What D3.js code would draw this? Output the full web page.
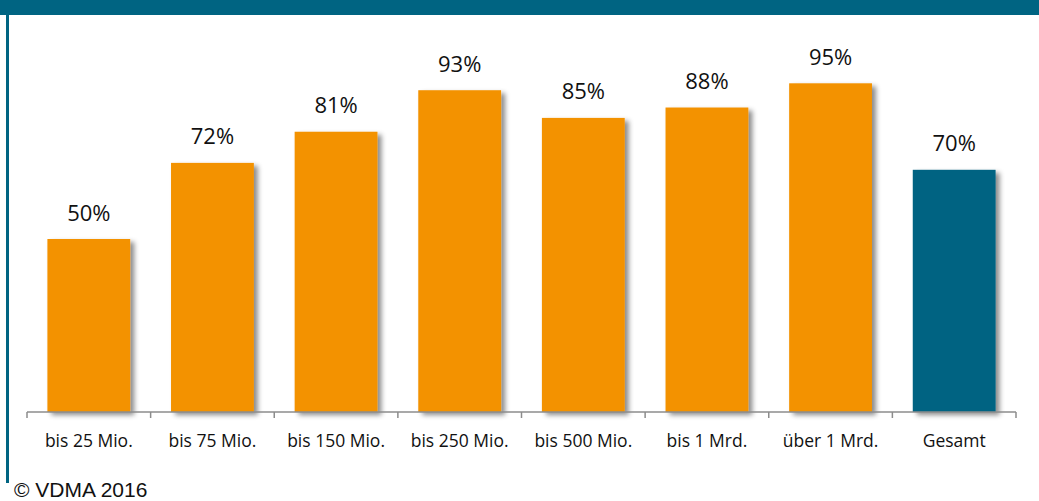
<!DOCTYPE html>
<html>
<head>
<meta charset="utf-8">
<script src="https://cdn.jsdelivr.net/npm/d3@7"></script>
<style>
  html, body { margin: 0; padding: 0; background: #fff; }
  svg { display: block; }
</style>
</head>
<body>
<svg id="chart" width="1039" height="501"></svg>
<script>
// Share of companies per revenue class, plus overall value
const categories = ["bis 25 Mio.", "bis 75 Mio.", "bis 150 Mio.", "bis 250 Mio.", "bis 500 Mio.", "bis 1 Mrd.", "über 1 Mrd.", "Gesamt"];
const values = [50, 72, 81, 93, 85, 88, 95, 70];
const totalCategory = "Gesamt";
const footnote = "© VDMA 2016";

const W = 1039, H = 501;
const teal = "#006482";
const orange = "#F39200";

const svg = d3.select("#chart");

// drop shadow for the bars
const defs = svg.append("defs");
const f = defs.append("filter").attr("id", "barShadow")
  .attr("x", "-20%").attr("y", "-20%").attr("width", "150%").attr("height", "140%");
f.append("feDropShadow")
  .attr("dx", 4).attr("dy", 3).attr("stdDeviation", 2.6)
  .attr("flood-color", "#000").attr("flood-opacity", 0.45);

// frame: top band and left rule
svg.append("rect").attr("x", 0).attr("y", 0).attr("width", W).attr("height", 15).attr("fill", teal);
svg.append("rect").attr("x", 6).attr("y", 0).attr("width", 3).attr("height", 483).attr("fill", teal);

const x = d3.scaleBand().domain(categories).range([27, 1016]).paddingInner(0.33).paddingOuter(0.165);
const xOuter = d3.scaleBand().domain(categories).range([27, 1016]);
const y = d3.scaleLinear().domain([0, 100]).range([412, 66]);

// bars
svg.append("g").selectAll("rect").data(categories).join("rect")
  .attr("x", d => x(d))
  .attr("y", (d, i) => y(values[i]))
  .attr("width", x.bandwidth())
  .attr("height", (d, i) => y(0) - y(values[i]))
  .attr("fill", d => d === totalCategory ? teal : orange)
  .attr("filter", "url(#barShadow)");

// value labels
svg.append("g").selectAll("text").data(categories).join("text")
  .attr("x", d => x(d) + x.bandwidth() / 2)
  .attr("y", (d, i) => y(values[i]) - 18.5)
  .attr("text-anchor", "middle")
  .attr("font-family", "'Open Sans', sans-serif")
  .attr("font-size", 22)
  .attr("fill", "#111")
  .text((d, i) => values[i] + "%");

// category axis with ticks at band boundaries
const axisG = svg.append("g").attr("transform", `translate(0,${y(0)})`);
axisG.append("line").attr("x1", 27).attr("x2", 1016).attr("y1", 0).attr("y2", 0)
  .attr("stroke", "#8c8c8c").attr("stroke-width", 1.5);
const boundaries = categories.map(d => xOuter(d)).concat([xOuter.range()[1]]);
axisG.selectAll("line.tick").data(boundaries).join("line").attr("class", "tick")
  .attr("x1", d => d).attr("x2", d => d).attr("y1", 0).attr("y2", 6)
  .attr("stroke", "#8c8c8c").attr("stroke-width", 1.5);
axisG.selectAll("text").data(categories).join("text")
  .attr("x", d => xOuter(d) + xOuter.bandwidth() / 2)
  .attr("y", 34.5)
  .attr("text-anchor", "middle")
  .attr("font-family", "'Open Sans', sans-serif")
  .attr("font-size", 17.5)
  .attr("fill", "#111")
  .text(d => d);

// copyright line
svg.append("text").attr("x", 14).attr("y", 497)
  .attr("font-family", "'Liberation Sans', Arial, sans-serif")
  .attr("font-size", 21)
  .attr("fill", "#111")
  .text(footnote);
</script>
</body>
</html>
